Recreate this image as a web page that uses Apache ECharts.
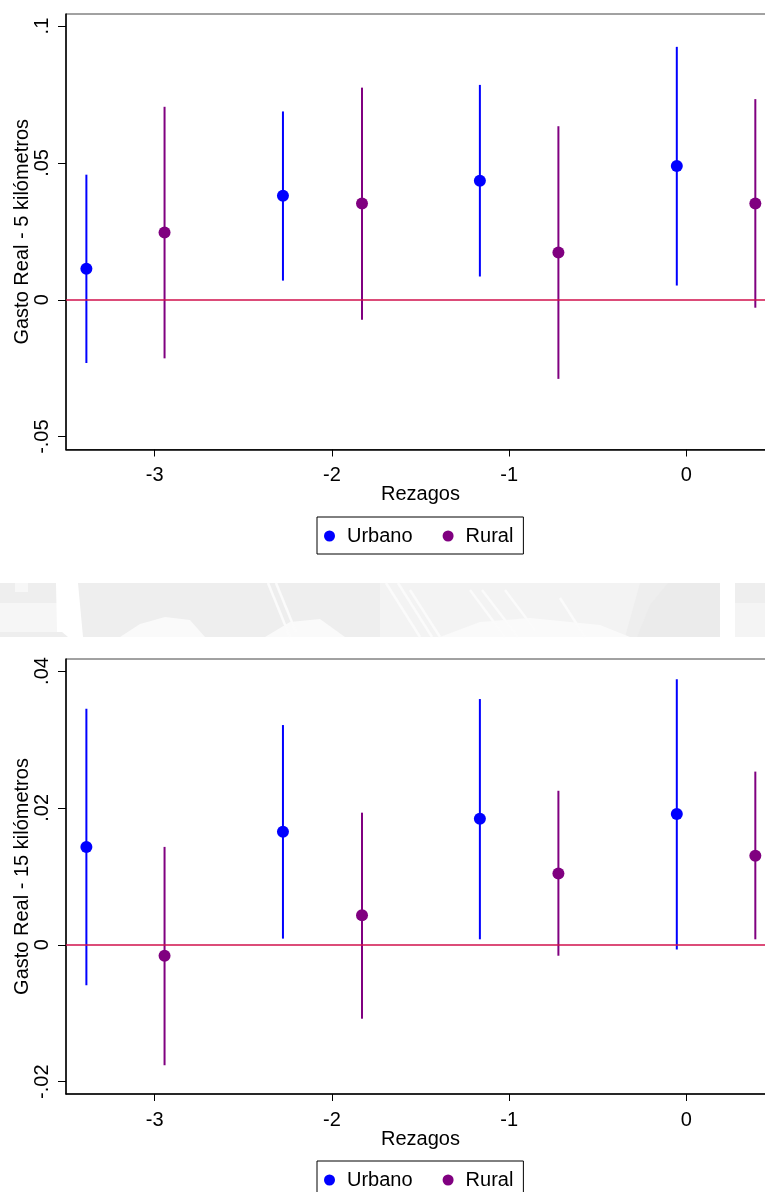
<!DOCTYPE html>
<html>
<head>
<meta charset="utf-8">
<title>Gasto Real - Rezagos</title>
<script src="https://cdn.jsdelivr.net/npm/echarts@6/dist/echarts.min.js"></script>
<style>
  html, body { margin: 0; padding: 0; background: #fff; }
  #chart { width: 765px; height: 1192px; }
</style>
</head>
<body>
<div id="chart"></div>
<script>
// Horizontal positions of the estimates (lag axis)
const lagUrbano = [-3.385, -2.276, -1.165, -0.054];
const lagRural = [-2.944, -1.830, -0.722, 0.389];

// Axis ticks
const xTicks = [-3, -2, -1, 0];
const xTickLabels = ['-3', '-2', '-1', '0'];
const yTicks5 = [-0.05, 0, 0.05, 0.1];
const yTickLabels5 = ['-.05', '0', '.05', '.1'];
const yTicks15 = [-0.02, 0, 0.02, 0.04];
const yTickLabels15 = ['-.02', '0', '.02', '.04'];

// 5 km: point estimates and confidence intervals
const urbano5 = [0.0113, 0.0380, 0.0435, 0.0489];
const urbano5Lo = [-0.0231, 0.0070, 0.0085, 0.0052];
const urbano5Hi = [0.0457, 0.0688, 0.0785, 0.0924];
const rural5 = [0.0246, 0.0352, 0.0173, 0.0352];
const rural5Lo = [-0.0214, -0.0073, -0.0289, -0.0029];
const rural5Hi = [0.0705, 0.0775, 0.0634, 0.0733];

// 15 km: point estimates and confidence intervals
const urbano15 = [0.0143, 0.0165, 0.0184, 0.0191];
const urbano15Lo = [-0.0059, 0.0009, 0.0008, -0.0007];
const urbano15Hi = [0.0345, 0.0321, 0.0359, 0.0388];
const rural15 = [-0.0016, 0.0043, 0.0104, 0.0130];
const rural15Lo = [-0.0176, -0.0108, -0.0016, 0.0008];
const rural15Hi = [0.0143, 0.0193, 0.0225, 0.0253];

const FONT = '"Liberation Sans", Arial, Helvetica, sans-serif';
const BLUE = '#0000ff';
const PURPLE = '#800080';
const ZERO = '#d0104c';

function tickFormatter(values, labels) {
  return function (v) {
    let best = 0;
    for (let i = 1; i < values.length; i++) {
      if (Math.abs(values[i] - v) < Math.abs(values[best] - v)) best = i;
    }
    return labels[best];
  };
}

function xAxisFor(gridIndex) {
  return {
    type: 'value', gridIndex: gridIndex, min: -3.5, max: 0.5,
    name: 'Rezagos', nameLocation: 'middle', nameGap: 35, nameMoveOverlap: false,
    nameTextStyle: { fontFamily: FONT, fontSize: 20, color: '#000' },
    axisLine: { show: true, onZero: false, lineStyle: { color: '#000', width: 1.5 } },
    axisTick: { show: true, length: 7, customValues: xTicks, lineStyle: { color: '#000', width: 1 } },
    axisLabel: {
      customValues: xTicks, margin: 16, fontFamily: FONT, fontSize: 20, color: '#000',
      formatter: tickFormatter(xTicks, xTickLabels)
    },
    splitLine: { show: false }
  };
}

function yAxisFor(gridIndex, min, max, ticks, labels, title) {
  return {
    type: 'value', gridIndex: gridIndex, min: min, max: max,
    name: title, nameLocation: 'middle', nameRotate: 90, nameGap: 34, nameMoveOverlap: false,
    nameTextStyle: { fontFamily: FONT, fontSize: 20, color: '#000' },
    axisLine: { show: true, onZero: false, lineStyle: { color: '#000', width: 1.5 } },
    axisTick: { show: true, length: 8, customValues: ticks, lineStyle: { color: '#000', width: 1 } },
    axisLabel: {
      customValues: ticks, rotate: 90, margin: 14, fontFamily: FONT, fontSize: 20, color: '#000',
      formatter: tickFormatter(ticks, labels)
    },
    splitLine: { show: false }
  };
}

function ciSeries(name, xs, lo, hi, color, axisIndex, withZeroLine) {
  const s = {
    type: 'custom', name: name, xAxisIndex: axisIndex, yAxisIndex: axisIndex,
    silent: true, z: 2,
    data: xs.map((x, i) => [x, lo[i], hi[i]]),
    encode: { x: 0, y: [1, 2] },
    renderItem: function (params, api) {
      const a = api.coord([api.value(0), api.value(1)]);
      const b = api.coord([api.value(0), api.value(2)]);
      return {
        type: 'line',
        shape: { x1: a[0], y1: a[1], x2: b[0], y2: b[1] },
        style: { stroke: color, lineWidth: 2 }
      };
    }
  };
  if (withZeroLine) {
    s.markLine = {
      silent: true, symbol: ['none', 'none'], label: { show: false },
      lineStyle: { color: ZERO, width: 1.6, type: 'solid' },
      data: [{ yAxis: 0 }], z: 3
    };
  }
  return s;
}

function pointSeries(name, xs, ys, color, axisIndex) {
  return {
    type: 'scatter', name: name, xAxisIndex: axisIndex, yAxisIndex: axisIndex,
    symbol: 'circle', symbolSize: 12, z: 4,
    itemStyle: { color: color, opacity: 1 },
    data: xs.map((x, i) => [x, ys[i]])
  };
}

function legendAt(top) {
  return {
    data: ['Urbano', 'Rural'], left: 317, top: top, orient: 'horizontal',
    icon: 'circle', itemWidth: 11, itemHeight: 11, itemGap: 30,
    borderColor: '#000', borderWidth: 1, padding: [9, 10, 8, 7],
    selectedMode: false,
    textStyle: { fontFamily: FONT, fontSize: 20, color: '#000', padding: [0, 0, 0, 7] }
  };
}

// Faint watermark band between the two panels
const band = { top: 583, bottom: 637 };
const watermark = [
  { type: 'rect', shape: { x: 0, y: band.top, width: 765, height: band.bottom - band.top }, style: { fill: '#eeeeee' } },
  { type: 'rect', shape: { x: 0, y: 603, width: 57, height: 29 }, style: { fill: '#f6f6f6' } },
  { type: 'rect', shape: { x: 15, y: band.top, width: 13, height: 9 }, style: { fill: '#f7f7f7' } },
  { type: 'polygon', shape: { points: [[56, 583], [78, 583], [83, 637], [68, 637], [62, 632], [57, 632]] }, style: { fill: '#ffffff' } },
  { type: 'polygon', shape: { points: [[120, 637], [140, 624], [165, 617], [190, 620], [205, 637]] }, style: { fill: '#fafafa' } },
  { type: 'polygon', shape: { points: [[265, 637], [290, 622], [320, 619], [345, 637]] }, style: { fill: '#fafafa' } },
  { type: 'polygon', shape: { points: [[380, 583], [640, 583], [625, 637], [380, 637]] }, style: { fill: '#f3f3f3' } },
  { type: 'polygon', shape: { points: [[440, 637], [480, 622], [530, 618], [600, 625], [630, 637]] }, style: { fill: '#fafafa' } },
  { type: 'polygon', shape: { points: [[637, 637], [650, 605], [668, 583], [720, 583], [722, 637]] }, style: { fill: '#ebebeb' } },
  { type: 'rect', shape: { x: 720, y: band.top, width: 15, height: 54 }, style: { fill: '#ffffff' } },
  { type: 'rect', shape: { x: 735, y: 603, width: 30, height: 34 }, style: { fill: '#f4f4f4' } }
];
[[386, 583, 420, 637], [398, 583, 432, 637], [410, 590, 440, 637], [470, 590, 505, 637], [482, 590, 518, 637],
 [505, 590, 535, 630], [560, 598, 585, 637], [268, 583, 290, 637], [276, 583, 296, 632]].forEach(function (p) {
  watermark.push({ type: 'line', shape: { x1: p[0], y1: p[1], x2: p[2], y2: p[3] }, style: { stroke: '#fbfbfb', lineWidth: 2.5 } });
});
watermark.forEach(function (g) { g.z = -10; g.silent = true; });

const chart = echarts.init(document.getElementById('chart'), null, { renderer: 'canvas' });
chart.setOption({
  backgroundColor: '#ffffff',
  animation: false,
  graphic: watermark,
  grid: [
    { left: 66, top: 14, width: 709, height: 435.5, show: true, borderColor: '#444', borderWidth: 1,
      backgroundColor: 'transparent', containLabel: false, outerBoundsMode: 'none' },
    { left: 66, top: 659, width: 709, height: 435, show: true, borderColor: '#444', borderWidth: 1,
      backgroundColor: 'transparent', containLabel: false, outerBoundsMode: 'none' }
  ],
  legend: [legendAt(517), legendAt(1161)],
  xAxis: [xAxisFor(0), xAxisFor(1)],
  yAxis: [
    yAxisFor(0, -0.0547, 0.1044, yTicks5, yTickLabels5, 'Gasto Real - 5 kilómetros'),
    yAxisFor(1, -0.0218, 0.04175, yTicks15, yTickLabels15, 'Gasto Real - 15 kilómetros')
  ],
  series: [
    ciSeries('Urbano IC 5', lagUrbano, urbano5Lo, urbano5Hi, BLUE, 0, true),
    ciSeries('Rural IC 5', lagRural, rural5Lo, rural5Hi, PURPLE, 0, false),
    pointSeries('Urbano', lagUrbano, urbano5, BLUE, 0),
    pointSeries('Rural', lagRural, rural5, PURPLE, 0),
    ciSeries('Urbano IC 15', lagUrbano, urbano15Lo, urbano15Hi, BLUE, 1, true),
    ciSeries('Rural IC 15', lagRural, rural15Lo, rural15Hi, PURPLE, 1, false),
    pointSeries('Urbano', lagUrbano, urbano15, BLUE, 1),
    pointSeries('Rural', lagRural, rural15, PURPLE, 1)
  ]
});
</script>
</body>
</html>
